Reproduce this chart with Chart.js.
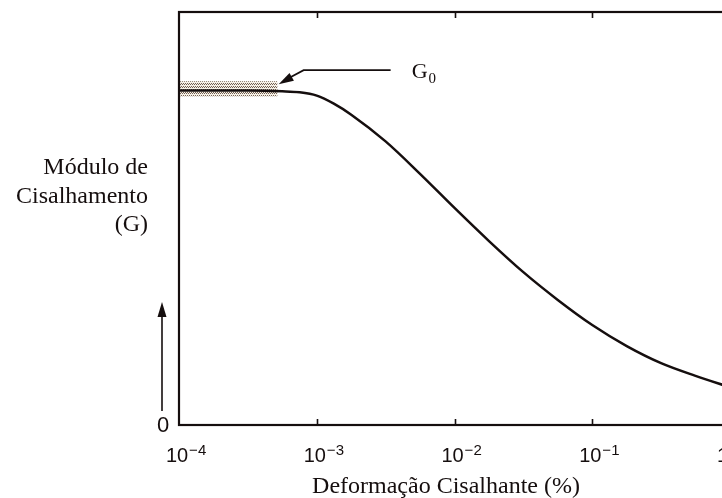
<!DOCTYPE html>
<html>
<head>
<meta charset="utf-8">
<script src="https://cdn.jsdelivr.net/npm/chart.js@4/dist/chart.umd.min.js"></script>
<style>
  html, body { margin: 0; padding: 0; background: #fff; overflow: hidden; }
  canvas { display: block; }
</style>
</head>
<body>
<canvas id="curve" width="736" height="498"></canvas>
<script>
// Shear strain (%) and normalised shear modulus G/G0 along the degradation curve
const strainPct = [1e-4, 3.16e-4, 5.62e-4, 7.5e-4, 1e-3, 1.33e-3, 1.78e-3, 3.16e-3, 5.62e-3,
                   1e-2, 1.78e-2, 3.16e-2, 5.62e-2, 0.1, 0.178, 0.316, 0.562, 1.0];
const modulusRatio = [1.0, 1.0, 0.998, 0.995, 0.985, 0.961, 0.928, 0.848, 0.751,
                      0.649, 0.550, 0.457, 0.374, 0.299, 0.236, 0.185, 0.147, 0.113];

// Scatter band of the small-strain modulus G0
const bandStrain = [1e-4, 5.2e-4];
const bandUpper = [1.028, 1.028];
const bandLower = [0.983, 0.983];

// Decade ticks of the strain axis
const tickValues = [1e-4, 1e-3, 1e-2, 1e-1, 1];
const tickExponents = ['\u22124', '\u22123', '\u22122', '\u22121', '0'];

const yTitleLines = ['Módulo de', 'Cisalhamento', '(G)'];
const xTitle = 'Deformação Cisalhante (%)';
const zeroLabel = '0';
const g0Label = 'G';
const g0Sub = '0';

const INK = '#150e0e';
const SERIF = '"Liberation Serif", "Times New Roman", serif';
const SANS = '"Liberation Sans", Arial, sans-serif';

function stipplePattern() {
  const t = document.createElement('canvas');
  t.width = 4; t.height = 3;
  const g = t.getContext('2d');
  g.fillStyle = '#f6f0e6';
  g.fillRect(0, 0, 4, 3);
  g.fillStyle = 'rgba(90,70,55,0.85)';
  g.fillRect(0, 0, 1, 1);
  g.fillRect(2, 0, 1, 1);
  g.fillRect(1, 2, 1, 1);
  g.fillRect(3, 2, 1, 1);
  return g.createPattern(t, 'repeat');
}

const decorations = {
  id: 'decorations',
  afterDatasetsDraw(chart) {
    const { ctx, chartArea: a } = chart;
    const xs = chart.scales.x;
    ctx.save();
    ctx.strokeStyle = INK;
    ctx.lineWidth = 2.2;
    ctx.strokeRect(a.left, a.top, a.right - a.left, a.bottom - a.top);
    // short inward ticks at interior decades
    ctx.lineWidth = 1.6;
    tickValues.slice(1, -1).forEach(v => {
      const px = Math.round(xs.getPixelForValue(v)) + 0.5;
      ctx.beginPath();
      ctx.moveTo(px, a.bottom); ctx.lineTo(px, a.bottom - 6);
      ctx.moveTo(px, a.top); ctx.lineTo(px, a.top + 6);
      ctx.stroke();
    });
    ctx.restore();
  },
  afterDraw(chart) {
    const { ctx, chartArea: a } = chart;
    const xs = chart.scales.x, ys = chart.scales.y;
    ctx.save();
    ctx.fillStyle = INK;
    ctx.strokeStyle = INK;

    // decade labels 10^n
    tickValues.forEach((v, i) => {
      const px = xs.getPixelForValue(v) - 2;
      ctx.font = '20px ' + SANS;
      ctx.textAlign = 'center';
      ctx.textBaseline = 'alphabetic';
      ctx.fillText('10', px, a.bottom + 37);
      const w = ctx.measureText('10').width;
      ctx.font = '15px ' + SANS;
      ctx.textAlign = 'left';
      ctx.fillText(tickExponents[i], px + w / 2 + 1, a.bottom + 30);
    });

    // zero of the modulus axis and upward arrow
    ctx.font = '22px ' + SANS;
    ctx.textAlign = 'center';
    ctx.textBaseline = 'middle';
    ctx.fillText(zeroLabel, a.left - 16, a.bottom + 1);
    const ax = a.left - 17;
    ctx.lineWidth = 1.6;
    ctx.beginPath();
    ctx.moveTo(ax, a.bottom - 14);
    ctx.lineTo(ax, a.bottom - 110);
    ctx.stroke();
    ctx.beginPath();
    ctx.moveTo(ax, a.bottom - 123);
    ctx.lineTo(ax - 4.5, a.bottom - 108);
    ctx.lineTo(ax + 4.5, a.bottom - 108);
    ctx.closePath();
    ctx.fill();

    // modulus axis title
    ctx.font = '24px ' + SERIF;
    ctx.textAlign = 'right';
    ctx.textBaseline = 'alphabetic';
    yTitleLines.forEach((line, i) => ctx.fillText(line, 148, 174 + i * 28.5));

    // strain axis title
    ctx.textAlign = 'center';
    ctx.fillText(xTitle, 446, 493);

    // G0 pointer
    const tipX = xs.getPixelForValue(bandStrain[1]) + 1;
    const tipY = ys.getPixelForValue(bandUpper[0]) + 3;
    const kneeX = tipX + 25, kneeY = tipY - 14;
    const startX = tipX + 112;
    ctx.lineWidth = 1.8;
    ctx.beginPath();
    ctx.moveTo(startX, kneeY);
    ctx.lineTo(kneeX, kneeY);
    ctx.lineTo(tipX + 8, tipY - 5);
    ctx.stroke();
    const dx = kneeX - tipX, dy = kneeY - tipY;
    const len = Math.hypot(dx, dy);
    const ux = dx / len, uy = dy / len;
    const hl = 15, hw = 4.5;
    ctx.beginPath();
    ctx.moveTo(tipX, tipY);
    ctx.lineTo(tipX + ux * hl - uy * hw, tipY + uy * hl + ux * hw);
    ctx.lineTo(tipX + ux * hl + uy * hw, tipY + uy * hl - ux * hw);
    ctx.closePath();
    ctx.fill();

    ctx.font = '22px ' + SERIF;
    ctx.textAlign = 'left';
    ctx.fillText(g0Label, startX + 21, kneeY + 8);
    const gw = ctx.measureText(g0Label).width;
    ctx.font = '15px ' + SERIF;
    ctx.fillText(g0Sub, startX + 22 + gw, kneeY + 13);
    ctx.restore();
  }
};

new Chart(document.getElementById('curve'), {
  type: 'line',
  data: {
    datasets: [
      {
        data: strainPct.map((x, i) => ({ x, y: modulusRatio[i] })),
        borderColor: INK,
        borderWidth: 2.5,
        pointRadius: 0,
        cubicInterpolationMode: 'monotone',
        fill: false
      },
      {
        data: bandStrain.map((x, i) => ({ x, y: bandUpper[i] })),
        borderWidth: 0,
        borderColor: 'rgba(0,0,0,0)',
        pointRadius: 0,
        fill: false
      },
      {
        data: bandStrain.map((x, i) => ({ x, y: bandLower[i] })),
        borderWidth: 0,
        borderColor: 'rgba(0,0,0,0)',
        pointRadius: 0,
        fill: '-1',
        backgroundColor: stipplePattern()
      }
    ]
  },
  options: {
    responsive: false,
    animation: false,
    layout: { padding: { left: 179, right: 6, top: 12, bottom: 73 } },
    scales: {
      x: { type: 'logarithmic', min: 1e-4, max: 1, display: false },
      y: { min: 0, max: 1.235, display: false }
    },
    plugins: { legend: { display: false }, tooltip: { enabled: false } }
  },
  plugins: [decorations]
});
</script>
</body>
</html>
